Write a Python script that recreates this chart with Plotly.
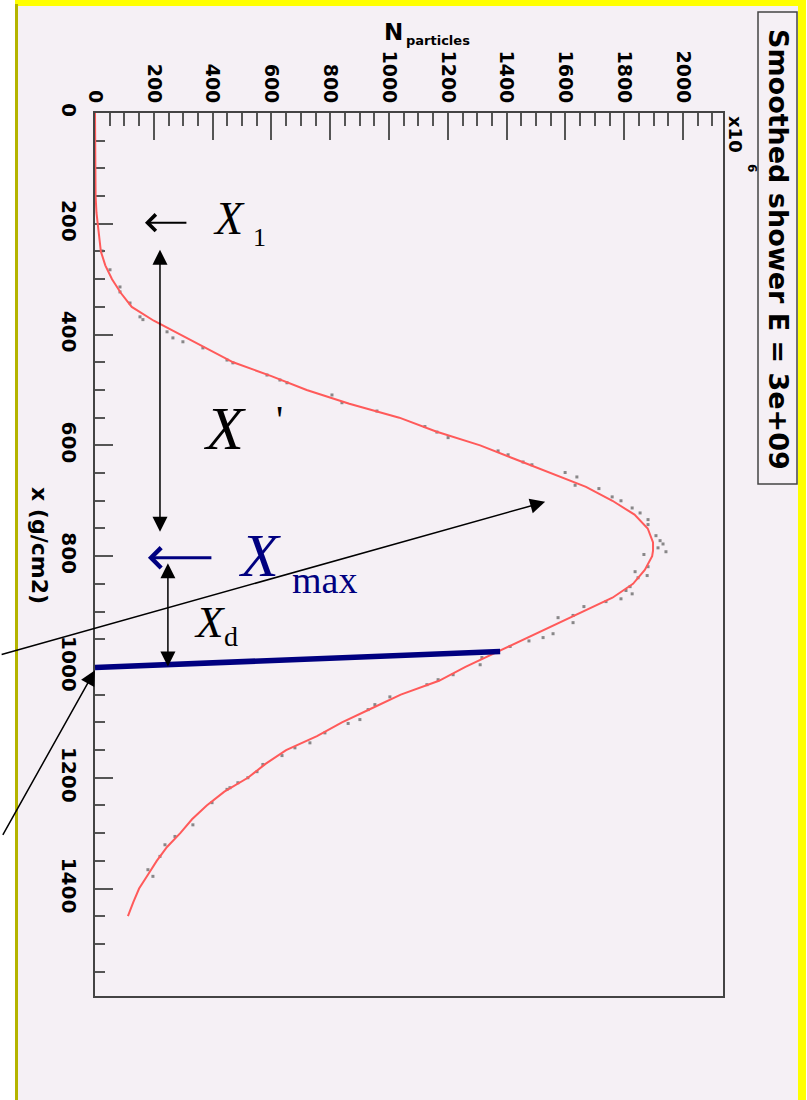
import plotly.graph_objects as go

W, H = 807, 1100

# Smoothed longitudinal shower profile: atmospheric depth (g/cm2) vs particle number (x10^6)
depth = [0, 50, 100, 150, 180, 200, 225, 250, 275, 300, 325, 350, 375, 400, 425,
         450, 475, 500, 525, 550, 575, 600, 625, 650, 675, 700, 725, 750, 775, 790,
         800, 825, 850, 875, 900, 925, 950, 975, 1000, 1025, 1050, 1075, 1100, 1125,
         1150, 1175, 1200, 1225, 1250, 1275, 1300, 1325, 1350, 1375, 1400, 1425, 1450]
n_smooth = [0, 0, 0, 2, 5, 10, 15, 20, 35, 58, 88, 125, 200, 290, 380,
            470, 600, 720, 865, 1035, 1160, 1310, 1430, 1550, 1670, 1760, 1835, 1880, 1898, 1898,
            1895, 1870, 1830, 1760, 1660, 1560, 1460, 1360, 1260, 1170, 1040, 940, 840, 755,
            650, 580, 520, 440, 380, 330, 290, 245, 210, 180, 150, 130, 112]

# Raw (unsmoothed) profile samples
raw_depth = [249, 283, 314, 323, 343, 368, 373, 395, 406, 413, 424, 446, 451, 473, 482,
             487, 509, 523, 538, 566, 576, 586, 610, 617, 630, 635,
             649, 657, 672, 678, 693, 700, 713, 722, 734, 743, 763, 772, 778, 785, 792,
             797, 819, 828, 839, 835, 855, 862, 877, 868, 882, 891, 907, 920, 911, 940,
             947, 953, 963,
             983, 996, 1014, 1023, 1032, 1054, 1068, 1077, 1095, 1102, 1119, 1137, 1146,
             1160, 1176, 1189, 1200, 1209, 1218, 1221, 1245, 1285, 1306, 1321, 1342, 1366, 1378]
raw_n = [24, 51, 85, 85, 119, 153, 163, 245, 265, 299, 367, 449, 469, 585, 629,
         653, 806, 840, 959, 1122, 1163, 1201, 1371, 1405, 1456, 1486,
         1599, 1639, 1633, 1714, 1759, 1789, 1827, 1854, 1881, 1881, 1908, 1922, 1932, 1915, 1942,
         1867, 1881, 1837, 1847, 1878, 1820, 1806, 1789, 1827, 1738, 1663, 1626, 1626, 1575, 1558,
         1524, 1476, 1412,
         1316, 1310, 1218, 1167, 1129, 1003, 952, 929, 901, 861, 782, 731, 680,
         636, 571, 551, 520, 486, 459, 449, 398, 333, 272, 238, 221, 180, 197]

n_ticks = [0, 200, 400, 600, 800, 1000, 1200, 1400, 1600, 1800, 2000]
depth_ticks = [0, 200, 400, 600, 800, 1000, 1200, 1400]

# Characteristic depths (g/cm2)
x_first = 200      # first interaction X1
x_max = 803        # shower maximum
x_ground = 1001    # observation level
blue_end_n = 1378  # where the observation line meets the profile
blue_end_depth = 972

N_RANGE = [0, 2136]
D_RANGE = [1594, 0]


def fx(px):
    return px / W


def fy(py):
    return 1 - py / H


BG = "#f5f0f5"
NAVY = "#000080"
SERIF = "Liberation Serif"
SANS = "DejaVu Sans"

fig = go.Figure()

fig.add_trace(go.Scatter(
    x=raw_n, y=raw_depth, mode="markers",
    marker=dict(symbol="square", size=3, color="rgba(90,90,90,0.7)", line=dict(width=0)),
    hoverinfo="skip", cliponaxis=False,
))
fig.add_trace(go.Scatter(
    x=n_smooth, y=depth, mode="lines",
    line=dict(color="#ff5a5a", width=2),
    hoverinfo="skip",
))

shapes = [
    # canvas with yellow border
    dict(type="rect", xref="paper", yref="paper", x0=fx(15), x1=fx(806), y0=0, y1=1,
         fillcolor="#ffff00", line=dict(width=0), layer="below"),
    dict(type="rect", xref="paper", yref="paper", x0=fx(18), x1=fx(798), y0=0, y1=fy(6),
         fillcolor=BG, line=dict(width=0), layer="below"),
    dict(type="line", xref="paper", yref="paper", x0=fx(16.5), x1=fx(16.5), y0=0, y1=fy(4),
         line=dict(color="#b4b400", width=3), layer="below"),
    # title box
    dict(type="rect", xref="paper", yref="paper", x0=fx(758), x1=fx(797), y0=fy(484), y1=fy(12),
         fillcolor=BG, line=dict(color="#444444", width=1.5), layer="below"),
    # observation level line
    dict(type="line", xref="x", yref="y", x0=0, y0=x_ground, x1=blue_end_n, y1=blue_end_depth,
         line=dict(color=NAVY, width=5.5), layer="above"),
]

ann = []


def text(x, y, s, size, color="black", family=SERIF, italic=False, angle=0, xref="x", yref="y",
         weight="normal", xanchor="center"):
    ann.append(dict(x=x, y=y, xref=xref, yref=yref, text=s, showarrow=False,
                    xanchor=xanchor, yanchor="middle", textangle=angle,
                    font=dict(family=family, size=size, color=color, weight=weight,
                              style="italic" if italic else "normal")))


def arrow(x, y, ax, ay, color="black", width=1.5, head=2, size=2.0, both=False, axref="x", ayref="y"):
    ann.append(dict(x=x, y=y, xref="x", yref="y", ax=ax, ay=ay, axref=axref, ayref=ayref,
                    text="", showarrow=True, arrowhead=head, startarrowhead=head,
                    arrowsize=size, startarrowsize=size, arrowwidth=width, arrowcolor=color,
                    arrowside="end+start" if both else "end", standoff=0, startstandoff=0))


# X1 marker
arrow(170, x_first - 2, 316, x_first - 2, head=4, width=2, size=1.6)
text(456, x_first - 9, "X", 46, italic=True)
text(558, x_first + 24, "1", 26)

# X' span between X1 and Xmax
arrow(221, 756, 221, 244, both=True, width=1.5, size=2.0)
text(439, 568, "X", 62, italic=True)
text(629, 554, "'", 40)

# Xmax marker
arrow(180, x_max, 401, x_max, color=NAVY, head=4, width=3, size=1.3)
text(558, x_max - 6, "X", 62, color=NAVY, italic=True)
text(779, 843, "max", 38, color=NAVY)

# Xd span between Xmax and observation level
arrow(248, 999, 248, 810, both=True, width=1.5, size=2.0)
text(388, 918, "X", 45, italic=True)
text(463, 945, "d", 28)

# pointer lines from the left margin
arrow(1531, 702, -545, 153, axref="pixel", ayref="pixel", width=1.5, size=2.0)
arrow(0, 1006, -93, 166, axref="pixel", ayref="pixel", width=1.5, size=2.0)

# axis titles, exponent and histogram title
text(fx(405), fy(32), "N", 23, family=SANS, xref="paper", yref="paper", weight="bold", xanchor="right")
text(fx(404), fy(40), "particles", 13, family=SANS, xref="paper", yref="paper", weight="bold", xanchor="left")
text(fx(40), fy(545), "x (g/cm2)", 22, family=SANS, angle=90, xref="paper", yref="paper", weight="bold")
text(fx(736), fy(134), "x10", 18, family=SANS, angle=90, xref="paper", yref="paper", weight="bold")
text(fx(752), fy(168), "6", 12, family=SANS, angle=90, xref="paper", yref="paper", weight="bold")
text(fx(778), fy(249), "Smoothed shower E = 3e+09", 27, family=SANS, angle=90,
     xref="paper", yref="paper", weight="bold")

n_tickfont = dict(family=SANS, size=19, color="black", weight="bold")
d_tickfont = dict(family=SANS, size=20, color="black", weight="bold")

fig.update_layout(
    width=W, height=H, margin=dict(l=0, r=0, t=0, b=0, autoexpand=False),
    paper_bgcolor="white", plot_bgcolor=BG, showlegend=False,
    shapes=shapes, annotations=ann,
    xaxis=dict(
        domain=[fx(95), fx(723)], range=N_RANGE, side="top", anchor="y", automargin=False,
        tickmode="array", tickvals=n_ticks, ticktext=[str(v) for v in n_ticks],
        ticks="inside", ticklen=27, tickwidth=2, tickcolor="#555555",
        minor=dict(tickmode="linear", tick0=0, dtick=50, ticks="inside", ticklen=13,
                   tickwidth=2, tickcolor="#555555"),
        showline=True, linecolor="#444444", linewidth=2, mirror=True,
        showgrid=False, zeroline=False, tickangle=90, tickfont=n_tickfont,
        ticklabelstandoff=1, layer="below traces",
    ),
    yaxis=dict(
        domain=[fy(996), fy(113)], range=D_RANGE, anchor="x", automargin=False,
        tickmode="array", tickvals=depth_ticks, ticktext=[str(v) for v in depth_ticks],
        ticks="inside", ticklen=18, tickwidth=2, tickcolor="#555555",
        minor=dict(tickmode="linear", tick0=0, dtick=50, ticks="inside", ticklen=10,
                   tickwidth=2, tickcolor="#555555"),
        showline=True, linecolor="#444444", linewidth=2, mirror=True,
        showgrid=False, zeroline=False, tickangle=90, tickfont=d_tickfont,
        ticklabelstandoff=7, layer="below traces",
    ),
)

fig.write_html("out.html")
